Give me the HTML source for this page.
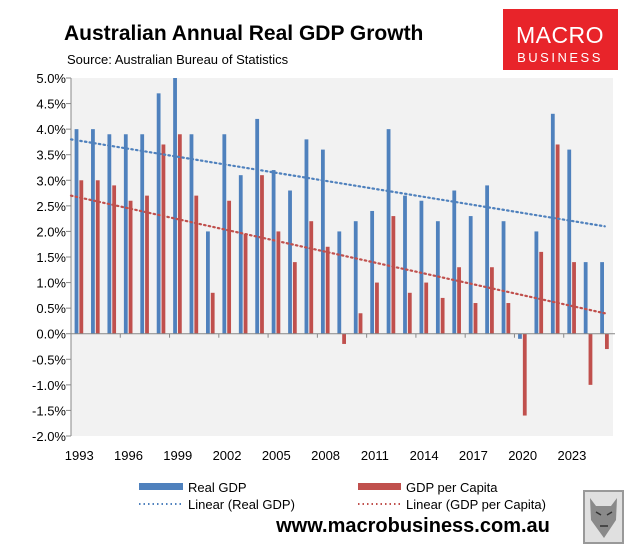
<!DOCTYPE html>
<html><head><meta charset="utf-8"><style>
body{margin:0;width:634px;height:552px;background:#fff;overflow:hidden;font-family:"Liberation Sans",sans-serif;}
</style></head><body>
<svg width="634" height="552" xmlns="http://www.w3.org/2000/svg" font-family="Liberation Sans, sans-serif">
<text x="64" y="40" font-size="21" font-weight="bold" fill="#000">Australian Annual Real GDP Growth</text>
<text x="67" y="64" font-size="13" fill="#000">Source: Australian Bureau of Statistics</text>
<g>
<rect x="503" y="9" width="115" height="61" fill="#e8242a"/>
<text x="560" y="43" font-size="23" fill="#fff" text-anchor="middle" letter-spacing="0.5">MACRO</text>
<text x="560" y="62" font-size="13" fill="#fff" text-anchor="middle" letter-spacing="2.5">BUSINESS</text>
</g>
<rect x="71" y="78" width="542" height="358" fill="#f2f2f2"/>
<g id="yaxis"></g>
<g id="bars"></g>
<g id="trends"></g>
<g id="xaxis"></g>
<g>
<rect x="139" y="483" width="44" height="7" fill="#4f81bd"/>
<text x="188" y="492" font-size="13">Real GDP</text>
<rect x="358" y="483" width="43" height="7" fill="#c0504d"/>
<text x="406" y="492" font-size="13">GDP per Capita</text>
<line x1="139" y1="504" x2="183" y2="504" stroke="#4f81bd" stroke-width="2" stroke-dasharray="1.5,3"/>
<text x="188" y="509" font-size="13">Linear (Real GDP)</text>
<line x1="358" y1="504" x2="401" y2="504" stroke="#c0504d" stroke-width="2" stroke-dasharray="1.5,3"/>
<text x="406" y="509" font-size="13">Linear (GDP per Capita)</text>
</g>
<text x="413" y="532" font-size="20" font-weight="bold" text-anchor="middle">www.macrobusiness.com.au</text>
<g>
<rect x="583" y="490" width="41" height="54" fill="#999"/>
<rect x="585" y="492" width="37" height="50" fill="#e0e0e0"/>
<path d="M590 498 L596 506 L611 506 L617 498 L616 520 L604 538 L591 520Z" fill="#8a8a8a"/>
<path d="M596 512 L601 515 M607 515 L612 512 M600 526 L608 526" stroke="#333" stroke-width="1.5"/>
</g>
</svg>
<script>
const years = [1993,1994,1995,1996,1997,1998,1999,2000,2001,2002,2003,2004,2005,2006,2007,2008,2009,2010,2011,2012,2013,2014,2015,2016,2017,2018,2019,2020,2021,2022,2023,2024,2025];
const realGdp = [4.0,4.0,3.9,3.9,3.9,4.7,5.0,3.9,2.0,3.9,3.1,4.2,3.2,2.8,3.8,3.6,2.0,2.2,2.4,4.0,2.7,2.6,2.2,2.8,2.3,2.9,2.2,-0.1,2.0,4.3,3.6,1.4,1.4];
const gdpPerCapita = [3.0,3.0,2.9,2.6,2.7,3.7,3.9,2.7,0.8,2.6,1.95,3.1,2.0,1.4,2.2,1.7,-0.2,0.4,1.0,2.3,0.8,1.0,0.7,1.3,0.6,1.3,0.6,-1.6,1.6,3.7,1.4,-1.0,-0.3];
const trendRealGdp = [3.8, 2.1];
const trendGdpPerCapita = [2.7, 0.4];
const yTicks = [5,4.5,4,3.5,3,2.5,2,1.5,1,0.5,0,-0.5,-1,-1.5,-2];
const xLabelEvery = 3;

const NS='http://www.w3.org/2000/svg';
const L=71,R=613,T=78,B=436,yMax=5,yMin=-2;
const cw=(R-L)/years.length;
function y(v){return T+(yMax-v)/(yMax-yMin)*(B-T);}
function xc(i){return L+(i+0.5)*cw;}
function mk(tag,attrs,parent){const e=document.createElementNS(NS,tag);for(const k in attrs)e.setAttribute(k,attrs[k]);parent.appendChild(e);return e;}
const ya=document.getElementById('yaxis'),bars=document.getElementById('bars'),tr=document.getElementById('trends'),xa=document.getElementById('xaxis');
yTicks.forEach(v=>{
  const t=mk('text',{x:66,y:y(v)+5,'font-size':13,'text-anchor':'end',fill:'#000'},ya);
  
  
  t.textContent=v.toFixed(1)+'%';
  const tk=mk('line',{x1:66,x2:71,y1:y(v),y2:y(v),stroke:'#888'},ya);
  
  
});
const ax=mk('line',{x1:71,x2:71,y1:T,y2:B,stroke:'#888'},ya);


years.forEach((yr,i)=>{
  const c=xc(i);
  const v1=realGdp[i],v2=gdpPerCapita[i];
  const b1=mk('rect',{x:c-4.6,width:3.8,y:Math.min(y(v1),y(0)),height:Math.abs(y(v1)-y(0)),fill:'#4f81bd'},bars);
  
  
  const b2=mk('rect',{x:c+0.2,width:3.8,y:Math.min(y(v2),y(0)),height:Math.abs(y(v2)-y(0)),fill:'#c0504d'},bars);
  
  
  if(i%xLabelEvery===0){
    const t=mk('text',{x:c,y:460,'font-size':13,'text-anchor':'middle'},xa);
    
    
    t.textContent=yr;
    const tk=mk('line',{x1:L+i*cw,x2:L+i*cw,y1:y(0),y2:y(0)+4,stroke:'#888'},xa);
    
    
  }
});
const zl=mk('line',{x1:L,x2:R+2,y1:y(0),y2:y(0),stroke:'#888'},xa);


[[trendRealGdp,'#4f81bd','trend-real-gdp'],[trendGdpPerCapita,'#c0504d','trend-gdp-per-capita']].forEach(([tv,col,nm])=>{
  const n=years.length-1;
  const l=mk('line',{x1:L,y1:y(tv[0]),x2:xc(n),y2:y(tv[1]),stroke:col,'stroke-width':2.2,'stroke-dasharray':'1.5,3.2','stroke-linecap':'round'},tr);
  
  
});
</script>
</body></html>
